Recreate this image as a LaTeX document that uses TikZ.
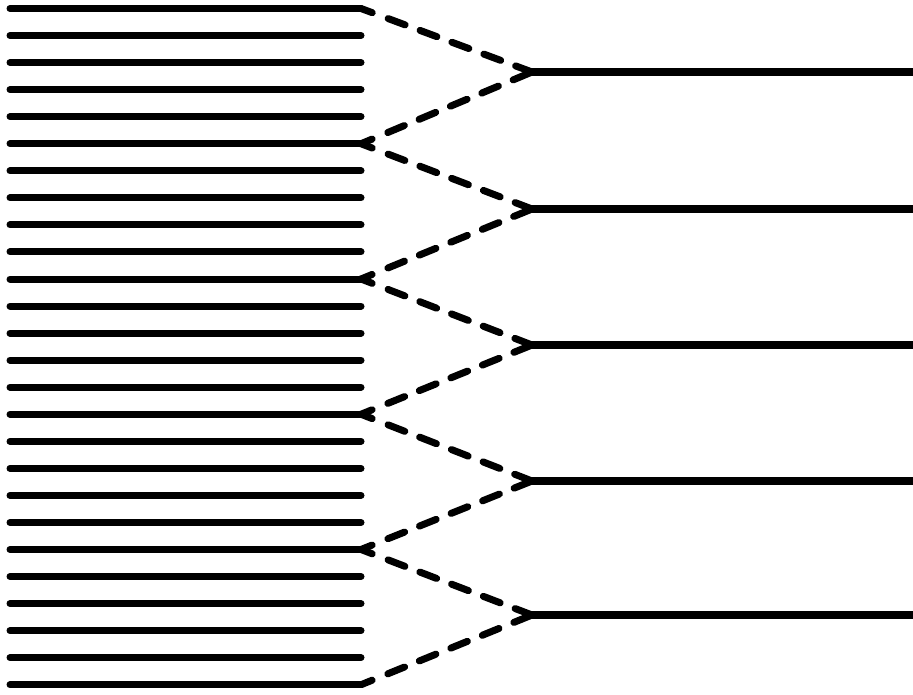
\documentclass[tikz,border=0pt]{standalone}
\begin{document}
\begin{tikzpicture}[x=1pt,y=-1pt,
  thinline/.style={line width=7pt,line cap=round},
  thickline/.style={line width=8.5pt,line cap=round},
  dashlink/.style={line width=7pt,line cap=round,
    dash pattern=on 12pt off 17pt on 18pt off 16pt on 18pt off 16pt on 18pt off 16pt on 18pt off 16pt on 40pt off 10pt}]
\useasboundingbox[fill=white] (0,0) rectangle (913,695);
% left bundle of 26 lines
\foreach \i in {0,...,25}{
  \coordinate (ls\i) at (10,{8.5+\i*27.05});
  \coordinate (le\i) at (361,{8.5+\i*27.05});
  \draw[thinline] (ls\i) -- (le\i);
}
% right lines
\foreach \k/\y in {1/72,2/209,3/345,4/481,5/615}{
  \coordinate (rs\k) at (532,\y);
  \coordinate (re\k) at (918,\y);
  \draw[thickline] (rs\k) -- (re\k);
}
% dashed connectors
\foreach \k/\a/\b in {1/0/5,2/5/10,3/10/15,4/15/20,5/20/25}{
  \draw[dashlink] (le\a) -- (rs\k);
  \draw[dashlink] (le\b) -- (rs\k);
}
\end{tikzpicture}
\end{document}
